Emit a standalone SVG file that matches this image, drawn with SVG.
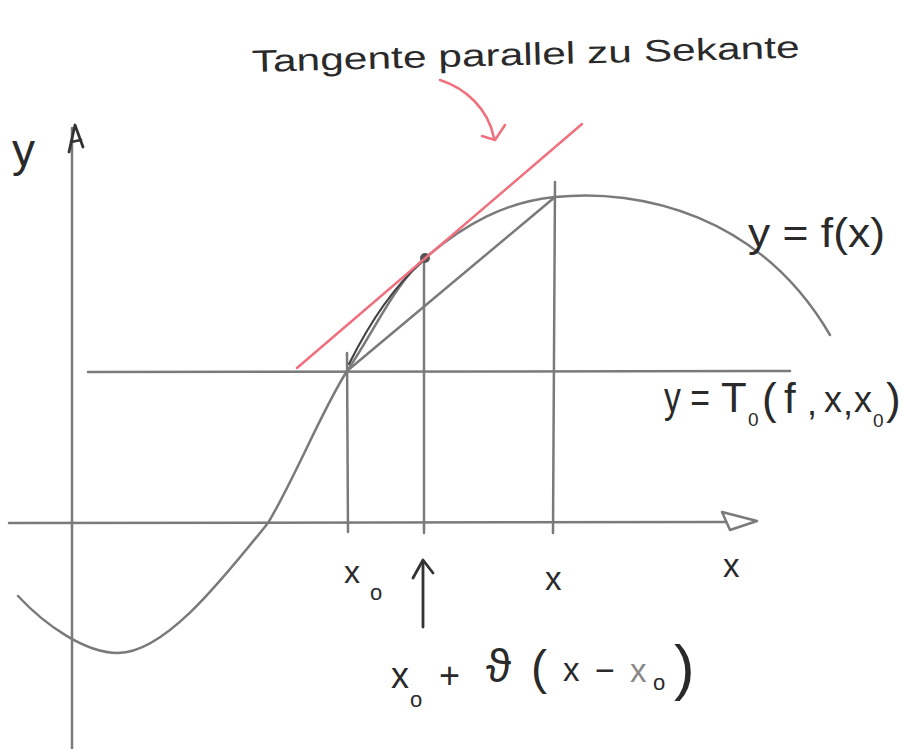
<svg xmlns="http://www.w3.org/2000/svg" width="903" height="749" viewBox="0 0 903 749">
<style>
.ln{fill:none;stroke:#7a7a7a;stroke-width:2.5;stroke-linecap:round;stroke-linejoin:round}
.dk{fill:none;stroke:#333;stroke-width:2.8;stroke-linecap:round;stroke-linejoin:round}
.red{fill:none;stroke:#f0707e;stroke-width:2.5;stroke-linecap:round;stroke-linejoin:round}
.t{font-family:"Liberation Sans","DejaVu Sans",sans-serif;fill:#2a2a2a}
</style>
<rect width="903" height="749" fill="#ffffff"/>
<g id="axes">
  <line class="ln" x1="72" y1="128" x2="72" y2="749"/>
  <path class="dk" d="M69,152 L75,125 L83,147 M71,142 L81,140"/>
  <line class="ln" x1="9" y1="523" x2="726" y2="522"/>
  <path class="ln" d="M722,512 L757,521 L730,530 Z"/>
</g>
<g id="level-line">
  <line class="ln" x1="88" y1="372" x2="790" y2="371"/>
</g>
<g id="verticals">
  <line class="ln" x1="347" y1="353" x2="348" y2="532"/>
  <line class="ln" x1="424" y1="258" x2="424" y2="533"/>
  <line class="ln" x1="555" y1="182" x2="553" y2="533"/>
</g>
<g id="curve">
  <path class="ln" d="M18,596 C45,625 85,653 118,653 C165,653 222,580 268,523 C295,478 322,410 347,371 C372,335 395,283 425,258 C465,224 505,202 555,197 C640,188 760,215 830,335"/>
  <path class="dk" style="stroke:#444;stroke-width:2.2" d="M349,364 C366,330 392,288 422,262"/>
  <circle cx="425" cy="258" r="5" fill="#555"/>
</g>
<g id="secant">
  <line class="ln" x1="347" y1="371" x2="555" y2="197"/>
</g>
<g id="tangent">
  <line class="red" x1="297" y1="368" x2="582" y2="124"/>
</g>
<g id="connectors">
  <path class="red" d="M440,80 C465,88 488,108 494,138"/>
  <path class="red" d="M482,136 L495,140 L505,125"/>
  <line class="dk" x1="423" y1="627" x2="423" y2="562"/>
  <path class="dk" d="M413,578 L423,560 L433,573"/>
</g>
<g id="label-title">
  <text class="t" x="252" y="72" font-size="31" textLength="548" lengthAdjust="spacingAndGlyphs" transform="rotate(-1.5 252 72)">Tangente parallel zu Sekante</text>
</g>
<g id="label-y">
  <text class="t" x="12" y="166" font-size="46">y</text>
</g>
<g id="label-f">
  <text class="t" x="748" y="247" font-size="40" textLength="137" lengthAdjust="spacingAndGlyphs">y = f(x)</text>
</g>
<g id="label-T">
  <text class="t" x="664" y="412" font-size="42" textLength="46" lengthAdjust="spacingAndGlyphs">y =</text>
  <text class="t" x="721" y="412" font-size="42">T</text>
  <text class="t" x="748" y="426" font-size="19">0</text>
  <text class="t" x="762" y="414" font-size="44">(</text>
  <text class="t" x="784" y="413" font-size="42">f</text>
  <text class="t" x="807" y="415" font-size="36">,</text>
  <text class="t" x="824" y="412" font-size="36">x</text>
  <text class="t" x="843" y="415" font-size="36">,</text>
  <text class="t" x="854" y="412" font-size="36">x</text>
  <text class="t" x="873" y="427" font-size="19">0</text>
  <text class="t" x="886" y="414" font-size="44">)</text>
</g>
<g id="label-x0">
  <text class="t" x="344" y="583" font-size="32">x</text>
  <text class="t" x="370" y="600" font-size="22">o</text>
</g>
<g id="label-x">
  <text class="t" x="545" y="590" font-size="33">x</text>
</g>
<g id="label-xaxis">
  <text class="t" x="723" y="577" font-size="33">x</text>
</g>
<g id="label-mean">
  <text class="t" x="391" y="688" font-size="36">x</text>
  <text class="t" x="410" y="707" font-size="22">o</text>
  <text class="t" x="439" y="688" font-size="36">+</text>
  <text class="t" x="486" y="682" font-size="46">ϑ</text>
  <text class="t" x="531" y="684" font-size="48">(</text>
  <text class="t" x="563" y="681" font-size="33">x</text>
  <text class="t" x="595" y="682" font-size="34">−</text>
  <text class="t" x="630" y="682" font-size="33" style="fill:#888">x</text>
  <text class="t" x="653" y="690" font-size="22">o</text>
  <text class="t" x="674" y="688" font-size="62">)</text>
</g>
</svg>
